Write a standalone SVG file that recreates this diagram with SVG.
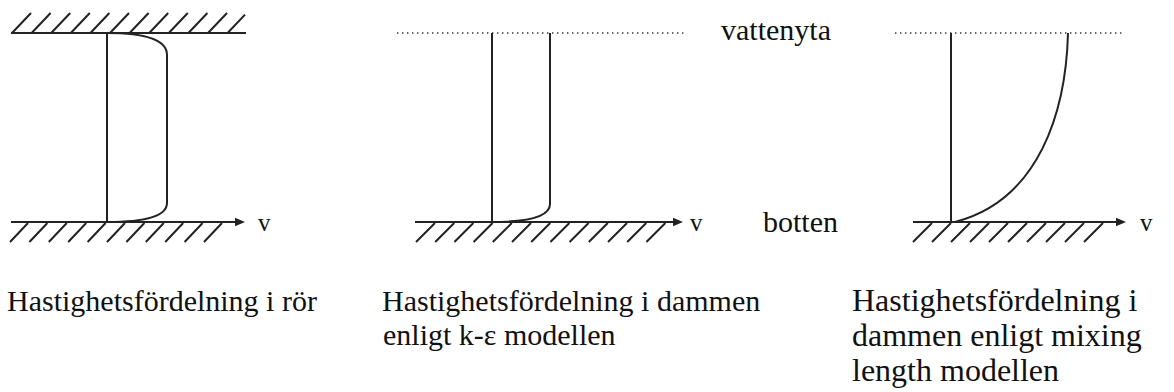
<svg xmlns="http://www.w3.org/2000/svg" width="1174" height="392" viewBox="0 0 1174 392">
<style>
.ln{fill:none;stroke:#222;stroke-width:2;stroke-linecap:butt}
.ht{fill:none;stroke:#222;stroke-width:2}
.dot{fill:none;stroke:#333;stroke-width:1.4;stroke-dasharray:1.4 3.6}
.tx{font-family:'Liberation Serif','Times New Roman',serif;font-size:30px;fill:#111}
.cap3{font-size:32px}
.vl{font-size:25px}
.ar{fill:#222}
</style>
<rect width="1174" height="392" fill="#fff"/>
<g id="panel-ror">
<path class="ht" d="M12,33 L31,13 M31.6,33 L50.6,13 M51.2,33 L70.2,13 M70.8,33 L89.8,13 M90.4,33 L109.4,13 M110,33 L129,13 M129.6,33 L148.6,13 M149.2,33 L168.2,13 M168.8,33 L187.8,13 M188.4,33 L207.4,13 M208,33 L227,13 M227.6,33 L245,14.6"/>
<line class="ln" x1="11" y1="33" x2="246" y2="33"/>
<path class="ht" d="M28,223 L10,242 M47.4,223 L29.4,242 M66.8,223 L48.8,242 M86.2,223 L68.2,242 M105.6,223 L87.6,242 M125,223 L107,242 M144.4,223 L126.4,242 M163.8,223 L145.8,242 M183.2,223 L165.2,242 M202.6,223 L184.6,242 M222,223 L204,242"/>
<line class="ln" x1="11" y1="222" x2="237" y2="222"/>
<polygon class="ar" points="245,222 235,217.8 235,226.2"/>
<line class="ln" x1="107" y1="33" x2="107" y2="222"/>
<path class="ln" d="M107,33 Q167,33 167,55 L167,203 Q167,222 107,222"/>
<text class="tx vl" x="258" y="231">v</text>
</g>
<g id="panel-k-eps">
<line class="dot" x1="397" y1="33" x2="684" y2="33"/>
<path class="ht" d="M435,223 L416,242 M454.2,223 L435.2,242 M473.4,223 L454.4,242 M492.6,223 L473.6,242 M511.8,223 L492.8,242 M531,223 L512,242 M550.2,223 L531.2,242 M569.4,223 L550.4,242 M588.6,223 L569.6,242 M607.8,223 L588.8,242 M627,223 L608,242 M646.2,223 L627.2,242 M665.4,223 L646.4,242"/>
<line class="ln" x1="415" y1="222" x2="675" y2="222"/>
<polygon class="ar" points="683,222 673,217.8 673,226.2"/>
<line class="ln" x1="492" y1="33" x2="492" y2="222"/>
<path class="ln" d="M550,33 L550,204 Q550,222 492,222"/>
<text class="tx vl" x="690" y="231">v</text>
</g>
<g id="panel-mixing">
<line class="dot" x1="895" y1="33" x2="1122" y2="33"/>
<path class="ht" d="M932,223 L913,242 M951,223 L932,242 M970,223 L951,242 M989,223 L970,242 M1008,223 L989,242 M1027,223 L1008,242 M1046,223 L1027,242 M1065,223 L1046,242 M1084,223 L1065,242 M1103,223 L1084,242"/>
<line class="ln" x1="913" y1="222" x2="1118" y2="222"/>
<polygon class="ar" points="1126,222 1116,217.8 1116,226.2"/>
<line class="ln" x1="951" y1="33" x2="951" y2="222"/>
<path class="ln" d="M1068,33 C1066,110 1040,200 955,222"/>
<text class="tx vl" x="1140" y="231">v</text>
</g>
<g id="labels">
<text class="tx" x="721" y="40">vattenyta</text>
<text class="tx" x="763" y="232">botten</text>
<text class="tx" x="7" y="311">Hastighetsfördelning i rör</text>
<text class="tx" x="382" y="311">Hastighetsfördelning i dammen</text>
<text class="tx" x="383" y="345">enligt k-ε modellen</text>
<text class="tx cap3" x="852" y="311">Hastighetsfördelning i</text>
<text class="tx cap3" x="852" y="346">dammen enligt mixing</text>
<text class="tx cap3" x="852" y="381">length modellen</text>
</g>
</svg>
